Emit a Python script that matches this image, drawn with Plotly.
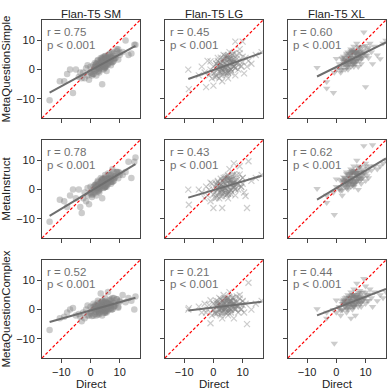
import numpy as np
import plotly.graph_objects as go
from plotly.subplots import make_subplots

models = ["Flan-T5 SM", "Flan-T5 LG", "Flan-T5 XL"]
prompts = ["MetaQuestionSimple", "MetaInstruct", "MetaQuestionComplex"]
r_values = [["0.75", "0.45", "0.60"],
            ["0.78", "0.43", "0.62"],
            ["0.52", "0.21", "0.44"]]
p_text = "p < 0.001"
tick_vals = [-10, 0, 10]

# Direct scores (x), shared per model: spread points + dense core
sm_direct = [-14, -10.5, -9, -8, -7, -6, -5, -4, -3.5, -3, -2.5, -2, -1.5, -1, -0.5, 0, 0, 0.5, 1, 1,
             1.5, 1.5, 2, 2, 2, 2.5, 2.5, 3, 3, 3, 3.5, 3.5, 4, 4, 4, 4.5, 4.5, 5, 5, 5,
             5.5, 5.5, 6, 6, 6.5, 7, 7, 7.5, 8, 8, 8.5, 9, 9.5, 10, 11, 12, 13, 14, 15, 15.4]
sm_direct_core = [0.5, 1, 1.5, 2, 2.5, 3, 3.5, 4, 4.5, 5, 5.5, 6, 6.5, 7, 7.5, 8, 8.5, 9,
                  1, 2, 3, 4, 5, 6, 7, 8, 1.5, 2.5, 3.5, 4.5, 5.5, 6.5, 7.5, 2, 3, 4, 5, 6, 7,
                  3, 4, 5, 6, 2.5, 3.5, 4.5, 5.5, 6.5, 0, -1, 9.5, 10, 4, 5, 3, 6, 2, 7, 4.5, 5.5]
lg_direct = [-8.6, -8.4, -5, -4, -3, -2.5, -2, -1.5, -1, -0.5, 0, 0, 0.5, 1, 1, 1.5, 1.5, 2, 2, 2.5,
             2.5, 3, 3, 3, 3.5, 3.5, 4, 4, 4, 4.5, 4.5, 5, 5, 5, 5.5, 5.5, 6, 6, 6, 6.5,
             6.5, 7, 7, 7.5, 7.5, 8, 8, 8.5, 9, 9, 9.5, 10, 10, 10.5, 11, 11.5, 12, 13, 14.5, 16.5]
lg_direct_core = sm_direct_core
xl_direct = [-6.6, -3.3, -3.3, -1, -0.7, 0, 1, 1.5, 2, 2, 2.5, 3, 3, 3.5, 3.5, 4, 4, 4, 4.5, 4.5,
             5, 5, 5, 5, 5.5, 5.5, 5.5, 6, 6, 6, 6, 6.5, 6.5, 6.5, 7, 7, 7, 7.5, 7.5, 8,
             8, 8, 8.5, 8.5, 9, 9, 9.4, 9.5, 10, 10, 10.5, 11, 11.5, 12, 12.4, 13, 14, 15, 16, 17]
xl_direct_core = [1.5, 2, 2.5, 3, 3.5, 4, 4.5, 5, 5.5, 6, 6.5, 7, 7.5, 8, 8.5, 9, 9.5, 10,
                  2, 3, 4, 5, 6, 7, 8, 9, 2.5, 3.5, 4.5, 5.5, 6.5, 7.5, 8.5, 3, 4, 5, 6, 7, 8,
                  4, 5, 6, 7, 3.5, 4.5, 5.5, 6.5, 7.5, 1, 0, 10.5, 11, 5, 6, 4, 7, 3, 8, 5.5, 6.5]

# Meta-prompt scores (y)
sm_simple = [-10.5, -4, -4, -1.5, 0, -8, 0, -2.5, -1, -3, -1, -3, 0.5, -2, -3.5, -1, 1, -2, 0, -1.5,
             1, -0.5, 0, 2, -2, 1, 3, 0.5, 2, -1, 1.5, 4, 1, -5, 3, 2, 0, 2.5, 4.5, 1,
             3, -0.5, 2, 5, 3, 4, 1.5, 6, 3, 5.5, 4, 7, 7, 5, 6, 10, 5, 5.5, 8.5, 8.5]
sm_simple_core = [-1.5, 1.5, 0.8, 0.1, 3.3, 0.1, 2.4, 1.6, 3.9, 0.7, 3.9, 3.2, 2.4, 5.7, 2.5, 4.7, 4.0, 6.3,
                  -1.5, 2.1, 1.6, 1.1, 4.7, 1.7, 4.2, 3.7, 2.3, -0.7, 2.9, 2.4, 1.9, 5.4, 2.5, 1.6, 1.1,
                  3.6, 0.7, 4.2, 3.7, 0.6, 4.1, 1.2, 3.7, 0.8, 3.4, 0.4, 3.9, 3.4, -1, 1.5, 3.5, 5.8,
                  1.6, 4.2, -0.4, 4.2, 1.1, 2.7, 4.4, 1.4]
sm_instruct = [-11, -3.5, -4, -6, -2, 0, -3, 0, -6, -8, -3, -1, -4, -2, -5, -1, 1, -2.5, 0, -1,
               1.5, -1, 0.5, 2, -2, 1, 3, 0, 2, -1, 1.5, 4, 2, -3, 3.5, 2.5, 0.5, 3, 5, 1,
               3.5, 1, 2.5, 5.5, 3.5, 5, 2, 7, 3, 6, 4.5, 6, 6, 5, 5, 6, 9.5, 4, 9.5, 11]
sm_instruct_core = [-1.8, 0.9, 0.4, -0.1, 2.6, 0.1, 2.0, 1.5, 3.4, 0.9, 3.5, 3.0, 2.5, 5.2, 2.7, 4.6, 4.1, 6.0,
                    -1.5, 1.5, 1.3, 1.1, 4.1, 1.8, 4.0, 3.8, 1.6, -0.6, 2.4, 2.2, 1.9, 4.9, 2.7, 1.1, 0.9,
                    3.1, 0.9, 3.8, 3.6, 0.5, 3.5, 1.3, 3.4, 0.6, 2.8, 0.6, 3.5, 3.3, -1.3, 0.5, 3.9, 5.8,
                    1.5, 3.7, -0.3, 3.8, 0.7, 2.8, 3.8, 1.5]
sm_complex = [-7, -3, -2.5, -1, 0, 0.5, -2, -1.5, -2.5, -4, -1, -3, 0, -2, -2, -1, 1, -0.5, 0, 2,
              1, -1.5, 0, 1.5, -2, 0.5, 3, 0, 2, -1, 1, 5.5, 1, -2, 3, 1.5, 0, 2, 4, -0.5,
              2.5, -1, 1, 6, 2, 3, 0, 4, 1, 4, 2, 3.5, 1, 3, 5, 2.5, 4, 3, 0, 4.5]
sm_complex_core = [-2.2, 0.9, 0.0, -0.8, 2.3, -1.1, 1.1, 0.2, 2.3, -1.0, 2.1, 1.2, 0.3, 3.5, 0.1, 2.2, 1.4, 3.5,
                   -2.1, 1.2, 0.4, -0.3, 2.9, -0.3, 2.0, 1.2, 1.5, -1.7, 1.6, 0.8, 0.1, 3.3, 0.1, 0.7, -0.1,
                   2.2, -1.0, 2.2, 1.5, -0.6, 2.7, -0.5, 1.7, -0.2, 2.1, -1.2, 2.1, 1.3, -1.4, 1.4, 0.6, 2.7,
                   0.2, 2.5, -1.6, 2.2, 0.2, 0.5, 2.8, -0.4]
lg_simple = [0, -6.7, -2, 1, -1, -6, 3, -2, 0, -3, -5.5, 1, -1, 2, -2, 0, 4, 1, -3, 2,
             -1, 0, 3, -4, 1, 5, 2, -1, 0.5, 3, -2, 1, 4, -3, 2, 6, 0, 3, -1, 2,
             5, 1, 3.5, 9.6, -2, 2, 5, 0, 3, 7, 1, 2.6, 9.6, -1.3, 4, 1, 3, 2, 5, 6]
lg_simple_core = [-2.6, 2.0, 0.7, -0.6, 4.1, -1.0, 2.2, 0.9, 4.0, -1.0, 3.6, 2.3, 1.0, 5.6, 0.6, 3.7, 2.4, 5.6,
                  -2.4, 2.4, 1.25, 0.1, 5.0, 0.0, 3.4, 2.2, 3.0, -1.9, 2.9, 1.8, 0.6, 5.5, 0.5, 1.6, 0.5,
                  3.8, -1.0, 3.8, 2.65, -0.2, 4.6, -0.3, 3.0, 0.3, 3.6, -1.2, 3.6, 2.5, -1.3, 2.8, 1.3, 4.4,
                  0.8, 4.2, -1.8, 3.8, 0.9, 1.1, 4.8, -0.2]
lg_instruct = [0, -5.2, 0, -1, -3, 1, -2, 0, -4, 2, -6.3, 0, -1, 2, -2, 0, 3, 1, -3, 1.5,
               -1, 0, 3, -6.3, 1, 4, 2, -1, 0.5, 3, -2, 1, 5, -3, 2, 7, 0, 3, -1.5, 2,
               4.5, 1, 9, 3, -2, 2, 5, 0, 3, 8, 1, 2, 4, -1, -2.2, -6.3, 9.7, 3, 4, 5]
lg_instruct_core = [-3.0, 1.6, 0.3, -1.0, 3.7, -1.4, 1.8, 0.5, 3.6, -1.4, 3.2, 1.9, 0.6, 5.2, 0.2, 3.3, 2.0, 5.2,
                    -2.8, 2.0, 0.85, -0.3, 4.6, -0.4, 3.0, 1.8, 2.6, -2.3, 2.5, 1.4, 0.2, 5.1, 0.1, 1.2, 0.1,
                    3.4, -1.4, 3.4, 2.25, -0.6, 4.2, -0.7, 2.6, -0.1, 3.2, -1.6, 3.2, 2.1, -1.7, 2.4, 0.9, 4.0,
                    0.4, 3.8, -2.2, 3.4, 0.5, 0.7, 4.4, -0.6]
lg_complex = [0, 0.5, 1, -1, 2, -1, 0, 1.5, -4.7, -2, 0, 2, -1, 1, 3, -1, 2, 0, 4, 1,
              -2, 0.5, 3, -3, 1.5, 5, 0, 2, -1, 3, 1, -2, 4, 1, 2, 6, 0, 3, -1, 1.5,
              4, 2, -3, 0.5, 3, 1, 4.5, -1, 2, 5, 0, 1.5, 3, -1, 2, -5, 9.2, 0, 2, 3]
lg_complex_core = [-1.4, 2.2, 1.1, -0.1, 3.6, -0.5, 1.9, 0.8, 3.2, -0.9, 2.8, 1.6, 0.5, 4.1, 0.0, 2.5, 1.3, 3.8,
                   -1.4, 2.3, 1.3, 0.2, 3.9, -0.2, 2.3, 1.3, 2.9, -1.2, 2.5, 1.4, 0.4, 4.1, 0.0, 1.7, 0.7,
                   3.2, -0.9, 2.8, 1.7, 0.1, 3.8, -0.3, 2.2, 0.6, 3.1, -1.0, 2.8, 1.7, -0.3, 3.2, 0.2, 2.7,
                   0.8, 3.3, -1.1, 2.8, 1.1, 0.5, 3.8, -0.2]
xl_simple = [0.7, -4.2, -6.4, -7.9, -1, 0, 2, -1, 1, 4, 2, 0, 3, 5, 1.5, 3, 0, 6, 2, 4,
             3, 5, 1, 7, 2.5, 4, 6, 3, 1, 5, 8, 4, 2, 6, 3, 5, 9, 4, 1, 6,
             3, 7, 5, 2, 4, 8, 12.8, 6, -5.9, 5, 7, 4, 9, 6, 2, 8, 5, 3.7, 9, 10]
xl_simple_core = [-0.2, 3.6, 2.7, 1.8, 5.6, 1.6, 4.3, 3.3, 6.0, 2.0, 5.9, 4.95, 4.0, 7.8, 3.9, 6.5, 5.6, 8.2,
                  0.0, 4.1, 3.45, 2.7, 6.8, 3.1, 6.0, 5.3, 4.5, 0.8, 4.9, 4.2, 3.5, 7.6, 3.9, 3.5, 2.8,
                  5.7, 2.0, 6.1, 5.45, 2.2, 6.3, 2.6, 5.5, 2.6, 5.5, 1.8, 5.9, 5.2, 0.8, 3.8, 4.9, 7.5,
                  3.3, 6.2, 1.0, 6.1, 2.95, 4.2, 6.6, 2.9]
xl_instruct = [0.3, -2, -4.5, -1, -8.6, 1, 0, 3, 1, -2, 3, 1, 4, 2, 6, 3, 0, 5, 2, 4,
               3, 5.5, 1, 7, 2, 4, 6, 3, 1, 5, 8, 4, 2, 6.5, 3, 5, 10, 4, 0, 6,
               3, 8, 5, 2, 4, 7, 15, 6, 3, 9, 6, 4, 8, 6.6, 15.3, 8, 7, 8, 9, 10]
xl_instruct_core = [-0.4, 3.4, 2.5, 1.6, 5.4, 1.4, 4.1, 3.1, 5.8, 1.8, 5.7, 4.75, 3.8, 7.6, 3.7, 6.3, 5.4, 8.0,
                    -0.2, 3.9, 3.25, 2.5, 6.6, 2.9, 5.8, 5.1, 4.3, 0.6, 4.7, 4.0, 3.3, 7.4, 3.7, 3.3, 2.6,
                    5.5, 1.8, 5.9, 5.25, 2.0, 6.1, 2.4, 5.3, 2.4, 5.3, 1.6, 5.7, 5.0, 0.6, 3.6, 4.7, 7.3,
                    3.1, 6.0, 0.8, 5.9, 2.75, 4.0, 6.4, 2.7]
xl_complex = [0.2, -1, -3, 0, -11.6, -1, 1, -2, 2, 0, 3, 1, 4, 2, -1, 3, 0, 5, 2, 4,
              3, -3, 1, 6, 2, 4, 0, 3, 1, 5, 7, 4, 2, -2, 3, 5, 9, 3.5, 1, 5,
              2, 6.5, 4, 1, 3, 6, 10.6, 4, 2, 8, 5, 3, 7, 4, 1, 6, 3, 5, 4, 6]
xl_complex_core = [-0.3, 2.9, 2.0, 1.2, 4.3, 1.0, 3.1, 2.3, 4.5, 1.1, 4.3, 3.4, 2.6, 5.8, 2.4, 4.6, 3.7, 5.9,
                   -0.2, 3.2, 2.5, 1.8, 5.1, 1.9, 4.3, 3.6, 3.5, 0.3, 3.6, 3.0, 2.3, 5.6, 2.4, 2.7, 2.0,
                   4.3, 1.1, 4.4, 3.8, 1.5, 4.8, 1.6, 3.9, 1.8, 4.1, 1.0, 4.3, 3.6, 0.5, 3.2, 3.1, 5.2,
                   2.3, 4.6, 0.5, 4.4, 2.2, 2.8, 5.0, 1.8]

direct = [sm_direct + sm_direct_core, lg_direct + lg_direct_core, xl_direct + xl_direct_core]
meta = [[sm_simple + sm_simple_core, lg_simple + lg_simple_core, xl_simple + xl_simple_core],
        [sm_instruct + sm_instruct_core, lg_instruct + lg_instruct_core, xl_instruct + xl_instruct_core],
        [sm_complex + sm_complex_core, lg_complex + lg_complex_core, xl_complex + xl_complex_core]]
symbols = ["circle", "x-thin-open", "triangle-down"]
ax_range = [-16.6, 17]

font = "Liberation Sans, Arial, sans-serif"

fig = make_subplots(rows=3, cols=3, subplot_titles=models,
                    horizontal_spacing=0.072, vertical_spacing=0.065)

for i in range(3):
    for j in range(3):
        x = np.array(direct[j], dtype=float)
        y = np.array(meta[i][j], dtype=float)
        # identity line
        fig.add_trace(go.Scatter(x=ax_range, y=ax_range, mode="lines",
                                 line=dict(color="red", width=1.2, dash="3px,2px"),
                                 showlegend=False, hoverinfo="skip"), row=i + 1, col=j + 1)
        # points
        if j == 1:
            mk = dict(symbol=symbols[j], size=6, color="rgba(128,128,128,0.4)",
                      line=dict(width=1.2, color="rgba(128,128,128,0.4)"))
        else:
            mk = dict(symbol=symbols[j], size=6.5, color="rgba(128,128,128,0.4)", line=dict(width=0))
        fig.add_trace(go.Scatter(x=x, y=y, mode="markers", marker=mk, showlegend=False),
                      row=i + 1, col=j + 1)
        # regression line
        slope, intercept = np.polyfit(x, y, 1)
        xs = np.array([x.min(), x.max()])
        fig.add_trace(go.Scatter(x=xs, y=slope * xs + intercept, mode="lines",
                                 line=dict(color="#6e6e6e", width=2),
                                 showlegend=False, hoverinfo="skip"), row=i + 1, col=j + 1)
        n = i * 3 + j + 1
        xref = "x" if n == 1 else f"x{n}"
        yref = "y" if n == 1 else f"y{n}"
        fig.add_annotation(x=-15.6, y=13.0, xref=xref, yref=yref, text=f"r = {r_values[i][j]}",
                           showarrow=False, xanchor="left", font=dict(size=11.5, color="#707070"))
        fig.add_annotation(x=-15.6, y=8.6, xref=xref, yref=yref, text=p_text,
                           showarrow=False, xanchor="left", font=dict(size=11.5, color="#707070"))
        fig.update_xaxes(range=ax_range, tickvals=tick_vals, showticklabels=(i == 2),
                         row=i + 1, col=j + 1)
        fig.update_yaxes(range=ax_range, tickvals=tick_vals, showticklabels=(j == 0),
                         row=i + 1, col=j + 1)
    fig.update_yaxes(title_text=prompts[i], title_standoff=4, row=i + 1, col=1)

for j in range(3):
    fig.update_xaxes(title_text="Direct", title_standoff=2, row=3, col=j + 1)

axis_style = dict(showgrid=False, zeroline=False, showline=True, mirror=True, linecolor="#444",
                  linewidth=1, ticks="outside", ticklen=4, tickcolor="#444",
                  tickfont=dict(size=11, color="#222"), title_font=dict(size=11.5, color="#222"))
fig.update_xaxes(**axis_style)
fig.update_yaxes(**axis_style)
for t in models:
    fig.update_annotations(selector=dict(text=t), font=dict(size=11.5, color="#222"), yshift=-2)

fig.update_layout(width=391, height=392, margin=dict(l=40, r=4, t=20, b=34),
                  plot_bgcolor="white", paper_bgcolor="white",
                  font=dict(family=font, color="#222"))

fig.write_html("out.html", config={"displayModeBar": False},
               post_script="document.body.style.margin='0';")
